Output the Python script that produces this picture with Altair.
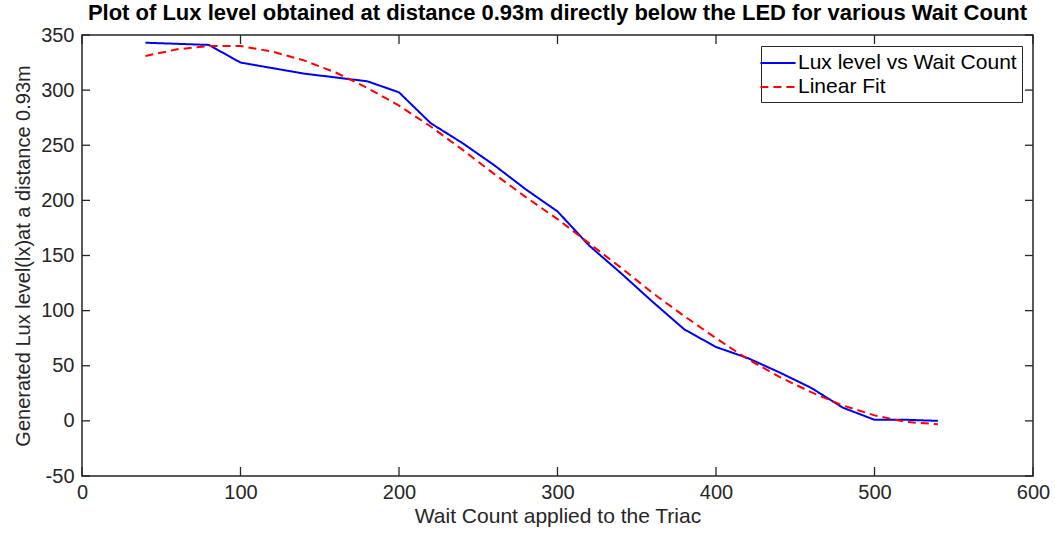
import altair as alt
import pandas as pd

# ---- data ----
lux_x = [40, 60, 80, 100, 140, 180, 200, 220, 240, 260, 280, 300, 320, 340,
         360, 380, 400, 420, 440, 460, 480, 500, 520, 540]
lux_y = [343, 342, 341, 325, 315, 308, 298, 270, 252, 232, 210, 190, 159, 134,
         108, 83, 67, 57, 44, 30, 12, 1, 1, 0]

fit_x = [40, 60, 80, 100, 120, 140, 160, 180, 200, 220, 240, 260, 280, 300,
         320, 340, 360, 380, 400, 420, 440, 460, 480, 500, 520, 540]
fit_y = [331, 337, 340, 340, 335, 327, 316, 302, 286, 267, 246, 224, 203, 183,
         161, 139, 116, 95, 75, 56, 40, 26, 14, 5, -1, -3]

series_names = ["Lux level vs Wait Count", "Linear Fit"]
series_colors = ["#0000f0", "#ff0000"]
series_dash = [[1, 0], [8, 5]]

x_ticks = [0, 100, 200, 300, 400, 500, 600]
y_ticks = [-50, 0, 50, 100, 150, 200, 250, 300, 350]

title_text = "Plot of Lux level obtained at distance 0.93m directly below the LED for various Wait Count"
x_title = "Wait Count applied to the Triac"
y_title = "Generated Lux level(lx)at a distance 0.93m"

W, H = 951, 441
FONT = "Liberation Sans"
DARK = "#262626"
FS = 20

df = pd.concat([
    pd.DataFrame({"x": lux_x, "y": lux_y, "series": series_names[0]}),
    pd.DataFrame({"x": fit_x, "y": fit_y, "series": series_names[1]}),
])
xt = pd.DataFrame({"x": x_ticks})
yt = pd.DataFrame({"y": y_ticks})

xscale = alt.Scale(domain=[0, 600], nice=False, zero=False)
yscale = alt.Scale(domain=[-50, 350], nice=False, zero=False)


def X():
    return alt.X("x:Q", scale=xscale, title=x_title,
                 axis=alt.Axis(values=x_ticks, ticks=False, domain=False, grid=False,
                               labelPadding=6, titlePadding=3, labelFlush=False,
                               titleFontSize=21, labelExpr="'' + datum.value"))


def Y():
    return alt.Y("y:Q", scale=yscale, title=y_title,
                 axis=alt.Axis(values=y_ticks, ticks=False, domain=False, grid=False,
                               labelPadding=8, titlePadding=7, labelFlush=False,
                               labelExpr="'' + datum.value"))


lines = alt.Chart(df).mark_line(strokeWidth=2).encode(
    x=X(),
    y=Y(),
    color=alt.Color("series:N", scale=alt.Scale(domain=series_names, range=series_colors),
                    title=None),
    strokeDash=alt.StrokeDash("series:N", scale=alt.Scale(domain=series_names, range=series_dash),
                              title=None),
    order=alt.Order("x:Q"),
)

tick_style = dict(color=DARK, strokeWidth=1.3)
bottom_ticks = alt.Chart(xt).mark_rule(**tick_style).encode(
    x=X(), y=alt.value(H), y2=alt.value(H - 9))
top_ticks = alt.Chart(xt).mark_rule(**tick_style).encode(
    x=X(), y=alt.value(0), y2=alt.value(9))
left_ticks = alt.Chart(yt).mark_rule(**tick_style).encode(
    y=Y(), x=alt.value(0), x2=alt.value(8))
right_ticks = alt.Chart(yt).mark_rule(**tick_style).encode(
    y=Y(), x=alt.value(W - 8), x2=alt.value(W))

chart = alt.layer(bottom_ticks, top_ticks, left_ticks, right_ticks, lines).properties(
    width=W,
    height=H,
    title=alt.TitleParams(title_text, anchor="middle", offset=0, fontSize=22,
                          font=FONT, fontWeight="bold", color="black"),
    autosize=alt.AutoSizeParams(type="none"),
    padding={"left": 82, "top": 35, "right": 22, "bottom": 59},
    background="white",
).configure_view(
    stroke=DARK, strokeWidth=1.5
).configure_axis(
    labelFont=FONT, titleFont=FONT, labelFontSize=FS, titleFontSize=FS,
    labelColor="#262626", titleColor="#262626", titleFontWeight="normal",
).configure_legend(
    orient="top-right", offset=11, symbolType="M-1.6,0H1.6", symbolSize=484,
    symbolStrokeWidth=2, labelFont=FONT, labelFontSize=21, labelColor="black",
    labelOffset=8, padding=5, rowPadding=2, strokeColor=DARK, fillColor="white",
    cornerRadius=0, labelLimit=400,
)

chart.save("out.html", embed_options={"renderer": "svg", "actions": False})
